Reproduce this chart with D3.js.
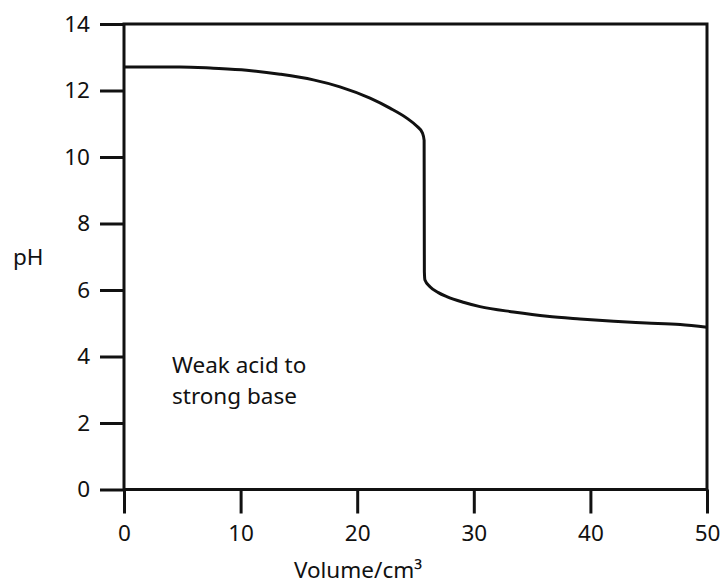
<!DOCTYPE html>
<html>
<head>
<meta charset="utf-8">
<script src="https://cdn.jsdelivr.net/npm/d3@7"></script>
<style>
  html, body { margin: 0; padding: 0; background: #fff; }
  svg { display: block; }
  text { font-family: "Noto Sans", sans-serif; fill: #111; }
</style>
</head>
<body>
<div id="chart"></div>
<script>
// Data
const volume = [0, 4.8, 7.66, 10.52, 13.38, 16.24, 18.52, 21.1, 22.81, 24.25, 25.1, 25.6, 25.74, 25.76, 25.81, 26.24, 26.96, 27.68, 29.1, 30.53, 33.4, 36.3, 39.1, 42, 44.8, 47.7, 50];
const pH     = [12.71, 12.71, 12.67, 12.61, 12.49, 12.32, 12.11, 11.77, 11.47, 11.17, 10.93, 10.72, 10.5, 6.55, 6.30, 6.10, 5.92, 5.80, 5.63, 5.50, 5.34, 5.21, 5.13, 5.06, 5.01, 4.96, 4.88];
const xTicks = [0, 10, 20, 30, 40, 50];
const yTicks = [0, 2, 4, 6, 8, 10, 12, 14];
const xTitle = "Volume/cm³";
const yTitle = "pH";
const noteLines = ["Weak acid to", "strong base"];

const W = 725, H = 585;
const svg = d3.select("#chart").append("svg").attr("width", W).attr("height", H);

const x = d3.scaleLinear().domain([0, 50]).range([124, 707]);
const y = d3.scaleLinear().domain([0, 14]).range([489.5, 24]);

const stroke = "#111";
const lw = 3;
const fontSize = "22.5px";

// Axes
const xAxis = d3.axisBottom(x).tickValues(xTicks).tickSize(24).tickPadding(12).tickSizeOuter(0);
const yAxis = d3.axisLeft(y).tickValues(yTicks).tickSize(24).tickPadding(10).tickSizeOuter(0);

const gx = svg.append("g").attr("transform", `translate(0,${y(0)})`).call(xAxis);
const gy = svg.append("g").attr("transform", `translate(${x(0)},0)`).call(yAxis);

[gx, gy].forEach(g => {
  g.select(".domain").remove();
  g.selectAll(".tick line").attr("stroke", stroke).attr("stroke-width", lw);
  g.selectAll(".tick text").style("font-family", '"Noto Sans", sans-serif').style("font-size", fontSize).attr("fill", stroke);
});

// Frame box
svg.append("rect")
  .attr("x", x(0)).attr("y", y(14))
  .attr("width", x(50) - x(0)).attr("height", y(0) - y(14))
  .attr("fill", "none").attr("stroke", stroke).attr("stroke-width", lw);

// Curve
const pts = volume.map((v, i) => [v, pH[i]]);
const line = d3.line().x(d => x(d[0])).y(d => y(d[1])).curve(d3.curveMonotoneX);
svg.append("path").datum(pts).attr("d", line)
  .attr("fill", "none").attr("stroke", stroke).attr("stroke-width", lw)
  .attr("stroke-linejoin", "round");

// Titles
svg.append("text").attr("x", 358).attr("y", 578).attr("text-anchor", "middle")
  .style("font-size", fontSize).text(xTitle);
svg.append("text").attr("x", 13).attr("y", 265).attr("text-anchor", "start")
  .style("font-size", fontSize).text(yTitle);

// Annotation
svg.append("text").attr("x", 172).attr("y", 373).style("font-size", fontSize).text(noteLines[0]);
svg.append("text").attr("x", 172).attr("y", 404).style("font-size", fontSize).text(noteLines[1]);
</script>
</body>
</html>
